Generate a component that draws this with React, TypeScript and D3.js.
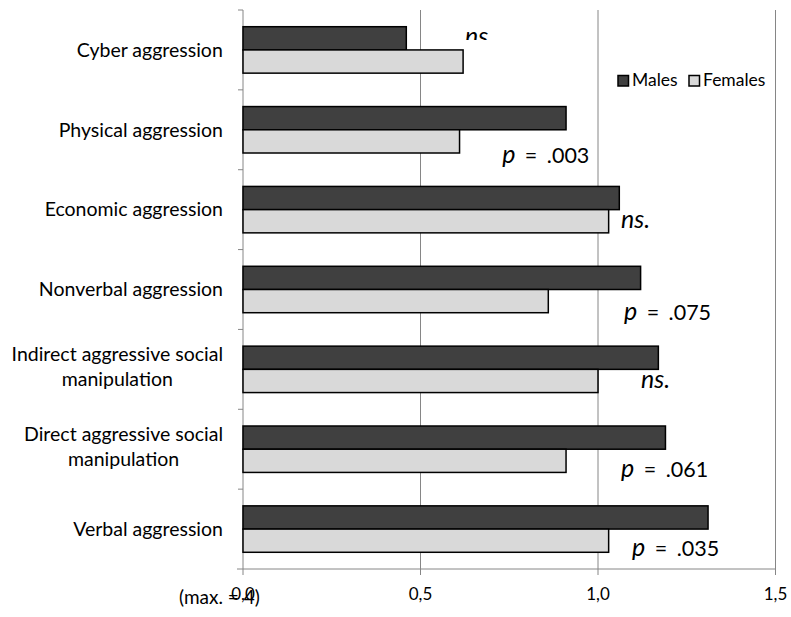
import React from "react";
import * as d3 from "d3";

const categories = [
  "Cyber aggression",
  "Physical aggression",
  "Economic aggression",
  "Nonverbal aggression",
  "Indirect aggressive social\nmanipulation",
  "Direct aggressive social\nmanipulation",
  "Verbal aggression",
];
const series = ["Males", "Females"];
const males = [0.46, 0.91, 1.06, 1.12, 1.17, 1.19, 1.31];
const females = [0.62, 0.61, 1.03, 0.86, 1.0, 0.91, 1.03];
const xTicks = [0, 0.5, 1.0, 1.5];
const xTickLabels = ["0,0", "0,5", "1,0", "1,5"];
const annotationText = ["ns.", "p|= .003", "ns.", "p|= .075", "ns.", "p|= .061", "p|= .035"];
const annotationX = [0.625, 0.73, 1.065, 1.073, 1.121, 1.065, 1.096];
const annotationDy = [-5, 33, 18, 30, 19, 28, 26.5];
const axisNote = "(max. = 4)";

const W = 791;
const H = 617;
const FONT = "Lato, 'Noto Sans', sans-serif";
const colors = ["#404040", "#d9d9d9"];

function measure(text: string, size: number) {
  const c = document.createElement("canvas").getContext("2d");
  if (!c) return text.length * size * 0.5;
  c.font = `${size}px Lato`;
  return c.measureText(text).width;
}

export default function App() {
  const left = 243;
  const right = 775.5;
  const top = 10;
  const bottom = 569;
  const x = d3.scaleLinear().domain([0, 1.5]).range([left, right]);
  const y = d3.scaleBand<string>().domain(categories).range([top, bottom]).paddingInner(0).paddingOuter(0);
  const sub = d3
    .scaleBand<string>()
    .domain(series)
    .range([0, y.bandwidth()])
    .paddingInner(0)
    .paddingOuter(0.72);
  const values = [males, females];
  const labelSize = 19.5;
  const labelRight = 223;
  const lineH = 25;

  return (
    <svg
      width={W}
      height={H}
      style={{ position: "absolute", left: 0, top: 0, background: "#fff" }}
      fontFamily={FONT}
    >
      <defs>
        <clipPath id="topclip">
          <rect x={0} y={0} width={W} height={40} />
        </clipPath>
      </defs>
      {/* gridlines */}
      {xTicks.slice(1).map((t) => (
        <line key={t} x1={x(t)} x2={x(t)} y1={top} y2={bottom} stroke="#868686" strokeWidth={1} />
      ))}
      {/* y axis */}
      <line x1={x(0)} x2={x(0)} y1={top} y2={bottom} stroke="#868686" strokeWidth={1} />
      {categories.map((c, i) => (
        <line key={"yt" + i} x1={x(0) - 5} x2={x(0)} y1={y(c)!} y2={y(c)!} stroke="#868686" />
      ))}
      {/* x axis */}
      <line x1={x(0) - 6} x2={x(1.5)} y1={bottom} y2={bottom} stroke="#868686" />
      {xTicks.map((t, i) => (
        <g key={"xt" + i}>
          <line x1={x(t)} x2={x(t)} y1={bottom} y2={bottom + 6} stroke="#868686" />
          <text x={x(t)} y={bottom + 31} textAnchor="middle" fontSize={17} fill="#000">
            {xTickLabels[i]}
          </text>
        </g>
      ))}
      {/* bars */}
      {categories.map((c, i) =>
        series.map((s, j) => (
          <rect
            key={c + s}
            x={x(0)}
            y={y(c)! + sub(s)!}
            width={x(values[j][i]) - x(0)}
            height={sub.bandwidth()}
            fill={colors[j]}
            stroke="#000"
            strokeWidth={1.5}
          />
        ))
      )}
      {/* category labels */}
      {categories.map((c, i) => {
        const lines = c.split("\n");
        const maxW = Math.max(...lines.map((l) => measure(l, labelSize)));
        const cx = labelRight - maxW / 2;
        const cy = y(c)! + y.bandwidth() / 2;
        const startY = cy - ((lines.length - 1) * lineH) / 2 - (lines.length - 1) * 3;
        return (
          <text key={"lab" + i} textAnchor="middle" fontSize={labelSize} fill="#000">
            {lines.map((l, k) => (
              <tspan key={k} x={cx} y={startY + k * lineH} dy="0.35em">
                {l}
              </tspan>
            ))}
          </text>
        );
      })}
      {/* annotations */}
      {annotationText.map((a, i) => {
        const cy = y(categories[i])! + y.bandwidth() / 2 + annotationDy[i];
        const parts = a.split("|");
        return (
          <text
            key={"an" + i}
            x={x(annotationX[i])}
            y={cy}
            fill="#000"
            clipPath={i === 0 ? "url(#topclip)" : undefined}
          >
            {parts.length === 1 ? (
              <tspan fontStyle="italic" fontSize={25}>
                {parts[0]}
              </tspan>
            ) : (
              <>
                <tspan fontStyle="italic" fontSize={25}>
                  {parts[0]}
                </tspan>
                <tspan fontSize={21.5} wordSpacing={4}>
                  {" " + parts[1]}
                </tspan>
              </>
            )}
          </text>
        );
      })}
      {/* legend */}
      {series.map((s, j) => {
        const lx = j === 0 ? 618 : 689;
        return (
          <g key={"lg" + s}>
            <rect x={lx} y={75.5} width={10.5} height={10.5} fill={colors[j]} stroke="#000" strokeWidth={1.5} />
            <text x={lx + 14} y={86} fontSize={17.5} fill="#000">
              {s}
            </text>
          </g>
        );
      })}
      {/* axis note */}
      <text x={179} y={604} fontSize={19} fill="#000">
        {axisNote}
      </text>
    </svg>
  );
}
